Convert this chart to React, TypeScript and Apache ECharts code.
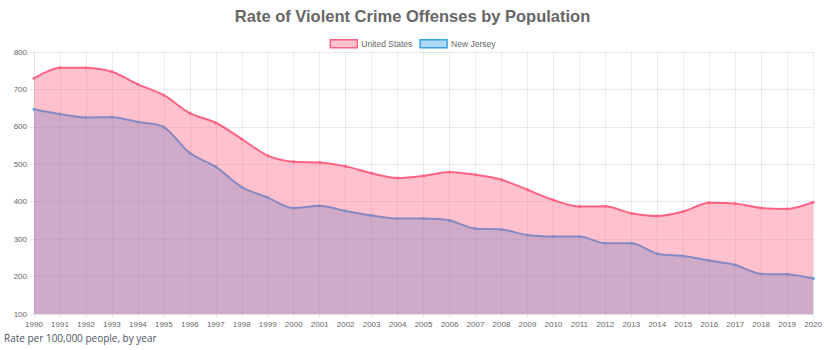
import React, { useEffect, useRef } from "react";
import * as echarts from "echarts";

const years = [
  "1990","1991","1992","1993","1994","1995","1996","1997","1998","1999",
  "2000","2001","2002","2003","2004","2005","2006","2007","2008","2009",
  "2010","2011","2012","2013","2014","2015","2016","2017","2018","2019","2020",
];

const unitedStates = [
  729.6, 758.2, 757.7, 747.1, 713.6, 684.5, 636.6, 611.0, 567.6, 523.0,
  506.5, 504.5, 494.4, 475.8, 463.2, 469.0, 479.3, 471.8, 458.6, 431.9,
  404.5, 387.1, 387.8, 369.1, 361.6, 373.7, 397.5, 394.9, 383.4, 380.8, 398.5,
];

const newJersey = [
  647, 634, 625, 626, 613, 599, 530, 493, 439, 411,
  383, 389, 375, 363, 355, 355, 350, 328, 326, 311,
  307, 307, 289, 289, 261, 255, 243, 231, 207, 206, 195,
];

const title = "Rate of Violent Crime Offenses by Population";
const footnote = "Rate per 100,000 people, by year";

const usLine = "rgb(255,99,132)";
const usFill = "rgba(255,99,132,0.4)";
const njLine = "rgb(54,162,235)";
const njFill = "rgba(54,162,235,0.4)";

export default function App() {
  const ref = useRef<HTMLDivElement>(null);
  useEffect(() => {
    if (!ref.current) return;
    const chart = echarts.init(ref.current, undefined, { renderer: "svg" });
    chart.setOption({
      animation: false,
      backgroundColor: "#fff",
      title: {
        text: title,
        left: "center",
        top: 2,
        textStyle: {
          fontFamily: "Liberation Sans, Arial, sans-serif",
          fontSize: 16.5,
          fontWeight: "bold",
          color: "#666",
        },
      },
      legend: {
        top: 34,
        left: "center",
        itemWidth: 27,
        itemHeight: 8,
        itemGap: 7,
        icon: "rect",
        textStyle: {
          fontFamily: "Liberation Sans, Arial, sans-serif",
          fontSize: 8.5,
          color: "#666",
          padding: [0, 0, 0, -1],
        },
        data: [
          { name: "United States", itemStyle: { color: usFill, borderColor: usLine, borderWidth: 1.5 } },
          { name: "New Jersey", itemStyle: { color: njFill, borderColor: njLine, borderWidth: 1.5 } },
        ],
      },
      grid: { left: 34, right: 8, top: 52, bottom: 36, containLabel: false },
      xAxis: {
        type: "category",
        data: years,
        boundaryGap: false,
        axisLine: { show: true, lineStyle: { color: "#e0e0e0" } },
        axisTick: { show: true, length: 4, lineStyle: { color: "#e6e6e6" } },
        splitLine: { show: true, lineStyle: { color: "rgba(0,0,0,0.08)" } },
        axisLabel: {
          color: "#666",
          fontSize: 8,
          margin: 6,
          interval: 0,
          fontFamily: "Liberation Sans, Arial, sans-serif",
        },
      },
      yAxis: {
        type: "value",
        min: 100,
        max: 800,
        interval: 100,
        axisLine: { show: true, lineStyle: { color: "#e0e0e0" } },
        axisTick: { show: true, length: 4, lineStyle: { color: "#e6e6e6" } },
        splitLine: { show: true, lineStyle: { color: "rgba(0,0,0,0.08)" } },
        axisLabel: {
          color: "#666",
          fontSize: 8,
          margin: 7,
          fontFamily: "Liberation Sans, Arial, sans-serif",
        },
      },
      series: [
        {
          name: "New Jersey",
          type: "line",
          z: 2,
          data: newJersey,
          smooth: 0.3,
          symbol: "circle",
          symbolSize: 3,
          lineStyle: { color: njLine, width: 2 },
          itemStyle: { color: njLine },
          areaStyle: { color: njFill, origin: "start", opacity: 1 },
        },
        {
          name: "United States",
          type: "line",
          z: 3,
          data: unitedStates,
          smooth: 0.3,
          symbol: "circle",
          symbolSize: 3,
          lineStyle: { color: usLine, width: 2 },
          itemStyle: { color: usLine },
          areaStyle: { color: usFill, origin: "start", opacity: 1 },
        },
      ],
      graphic: [
        {
          type: "text",
          left: 4,
          top: 333,
          style: {
            text: footnote,
            fontFamily: "Open Sans, sans-serif",
            fontSize: 10,
            fill: "#4a5466",
          },
        },
      ],
    });
    return () => chart.dispose();
  }, []);
  return (
    <div
      ref={ref}
      style={{ position: "fixed", left: 0, top: 0, width: 825, height: 350 }}
    />
  );
}
